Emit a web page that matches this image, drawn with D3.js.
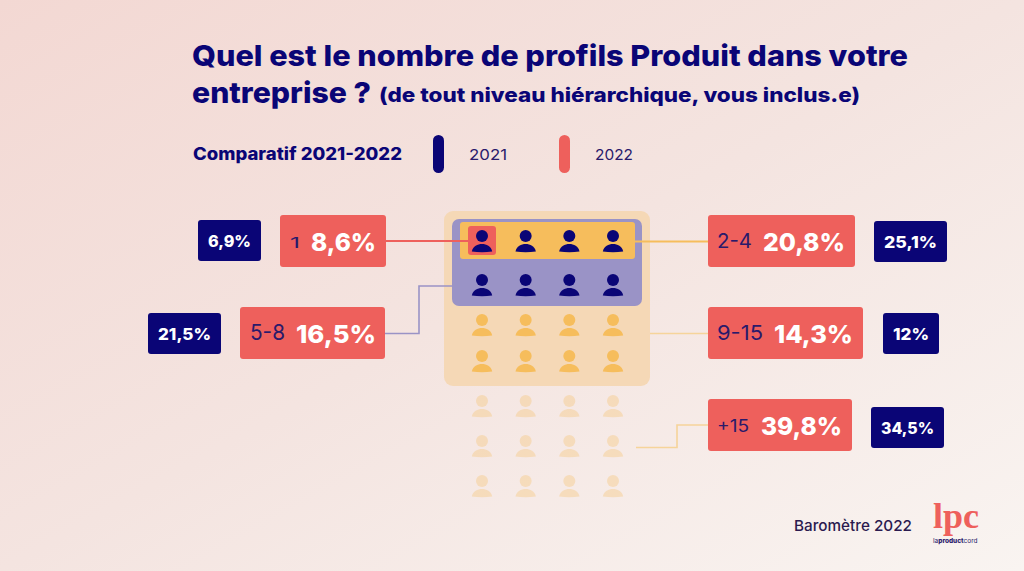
<!DOCTYPE html>
<html><head><meta charset="utf-8">
<script src="https://cdn.jsdelivr.net/npm/d3@7/dist/d3.min.js"></script>
<style>html,body{margin:0;padding:0;overflow:hidden;background:#f8f0ed}svg{display:block}text{font-family:Inter,"Open Sans",sans-serif}</style>
</head><body><svg id="c" width="1024" height="571"></svg>
<script>
const categories=["1","2-4","5-8","9-15","+15"];
const values2021=["6,9%","25,1%","21,5%","12%","34,5%"];
const values2022=["8,6%","20,8%","16,5%","14,3%","39,8%"];
const years=["2021","2022"];
const titleLines=["Quel est le nombre de profils Produit dans votre","entreprise ?"];
const subtitle="(de tout niveau hiérarchique, vous inclus.e)";
const navy="#0a0576",coral="#ee605c",yellow="#f6bd5c",tan="#f5d8b6",purple="#9a93c6",ink="#2a1a6b";

const svg=d3.select("#c");
const defs=svg.append("defs");
const g=defs.append("linearGradient").attr("id","bg").attr("x1","0").attr("y1","0").attr("x2","1").attr("y2","1");
g.append("stop").attr("offset","0").attr("stop-color","#f3d8d3");
g.append("stop").attr("offset","0.5").attr("stop-color","#f4e4e0");
g.append("stop").attr("offset","1").attr("stop-color","#f9f4f1");
svg.append("rect").attr("width",1024).attr("height",571).attr("fill","url(#bg)");

function T(x,y,s,size,fill,weight,anchor){return svg.append("text").attr("x",x).attr("y",y).attr("font-size",size).attr("fill",fill).attr("font-weight",weight||400).attr("text-anchor",anchor||"start").text(s);}
function fit(t,w){return t.attr("textLength",w).attr("lengthAdjust","spacingAndGlyphs");}
function R(x0,y0,x1,y1,fill,r,op){return svg.append("rect").attr("x",x0).attr("y",y0).attr("width",x1-x0).attr("height",y1-y0).attr("rx",r).attr("fill",fill).attr("opacity",op==null?1:op);}

// title
fit(T(192,66,titleLines[0],29,navy,800),716);
fit(T(192,103,titleLines[1],29,navy,800),179);
fit(T(379,102,subtitle,20,navy,800),481);

// legend
fit(T(193,160,"Comparatif 2021-2022",17,navy,800),209);
const legend=d3.scaleOrdinal().domain(years).range([433,559]);
const legendColor=d3.scaleOrdinal().domain(years).range([navy,coral]);
years.forEach(y=>{
  R(legend(y),135,legend(y)+11,173,legendColor(y),5.5);
  fit(T(legend(y)+36,160,y,14,ink,400),38);
});

// panels
R(444,211,650,386,tan,9);
R(452,219,642,306,purple,7);
R(460,222,635,259,yellow,3);

// connectors
const line=d3.line().x(d=>d[0]).y(d=>d[1]);
function L(pts,color,w){svg.append("path").attr("d",line(pts)).attr("fill","none").attr("stroke",color).attr("stroke-width",w||1.6);}
L([[386,241],[468,241]],coral,2);
L([[385,333.5],[419,333.5],[419,286],[452,286]],purple,1.6);
L([[635,241.5],[708,241.5]],yellow,1.8);
L([[650,333.5],[708,333.5]],"#f6d49a",1.6);
L([[636,447.5],[677,447.5],[677,425],[708,425]],"#f6d49a",1.6);

R(468,226,496,255,coral,3);

// people
const cols=d3.range(4),rows=d3.range(7);
const xP=d3.scalePoint().domain(cols).range([482,613]);
const yP=d3.scaleOrdinal().domain(rows).range([236,280,320,356,401,441,481]);
const rowColor=r=>r<2?navy:yellow;
const rowOp=r=>r<4?1:0.3;
rows.forEach(r=>cols.forEach(c=>{
  const p=svg.append("g").attr("transform",`translate(${xP(c)},${yP(r)})`).attr("opacity",rowOp(r));
  p.append("circle").attr("r",6).attr("fill",rowColor(r));
  p.append("path").attr("d","M-10.2,15.5 C-9,10 -4.5,8 0,8 C4.5,8 9,10 10.2,15.5 Q0,17 -10.2,15.5 Z").attr("fill",rowColor(r));
}));

// value boxes
function box2022(x0,x1,y0,cat,val,catX,catW,catSize,valX0,valX1){
  R(x0,y0,x1,y0+52,coral,3);
  fit(T(catX,y0+33,cat,catSize,ink,400),catW);
  fit(T(valX0,y0+36,val,25,"#fff",800),valX1-valX0);
}
function box2021(x0,x1,y0,val,textX0,textX1){
  R(x0,y0,x1,y0+41,navy,3);
  fit(T(textX0,y0+27,val,16,"#fff",800),textX1-textX0);
}
box2022(280,386,215,categories[0],values2022[0],290,10,15,311,376);
box2022(240,385,307,categories[2],values2022[2],250,35,21,296,376);
box2022(708,855,215,categories[1],values2022[1],717,35,20,763,845);
box2022(708,863,307,categories[3],values2022[3],717,46,20,774,853);
box2022(708,852,399,categories[4],values2022[4],717,32,17,761,842);
box2021(198,261,220,values2021[0],208,251);
box2021(148,221,313,values2021[2],158,211);
box2021(874,947,221,values2021[1],884,937);
box2021(883,939,313,values2021[3],893,929);
box2021(871,944,407,values2021[4],881,934);

// footer
fit(T(794,531,"Baromètre 2022",15,"#2b1a4f",500),118);
svg.append("text").attr("x",933).attr("y",528).attr("font-family","Liberation Serif").style("font-family","Liberation Serif").attr("font-size",36).attr("font-weight",700).attr("fill",coral).text("lpc");
const tag=T(933,543,"la",6.5,ink,400);
tag.append("tspan").attr("font-weight",800).text("product");
tag.append("tspan").text("cord");
</script></body></html>
